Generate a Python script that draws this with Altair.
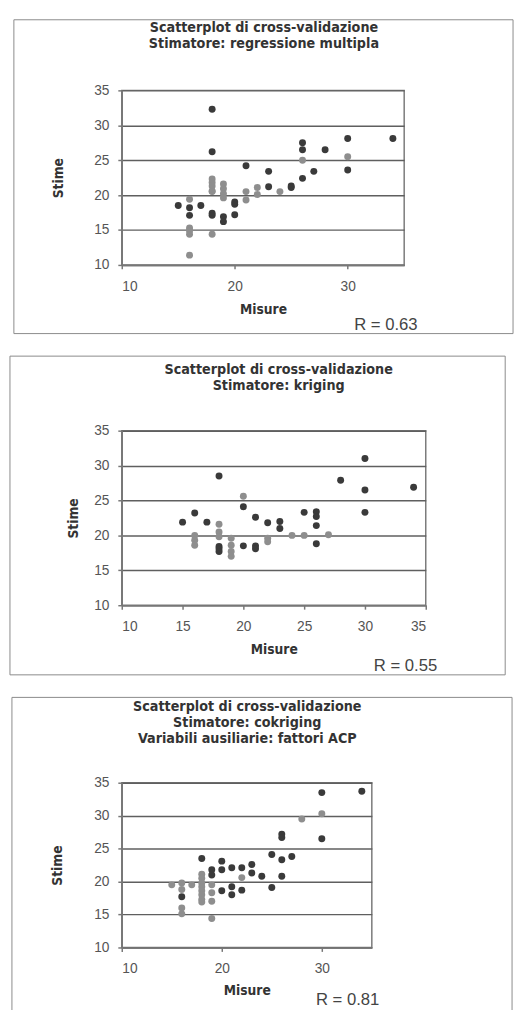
import altair as alt
import pandas as pd

TITLE_FONT = "Liberation Sans Narrow, DejaVu Sans Condensed, Arial Narrow, sans-serif"
LABEL_FONT = "Liberation Sans, Arial, sans-serif"

# ---------------- data ----------------
# Panel 1: regressione multipla
p1_dark_x = [15, 16, 16, 17, 18, 18, 18, 18, 19, 19, 20, 20, 20, 21, 23, 23, 25, 25, 26, 26, 26, 27, 28, 30, 30, 34]
p1_dark_y = [18.5, 18.2, 17.1, 18.5, 32.3, 26.2, 17.4, 17.1, 16.9, 16.2, 19.0, 18.7, 17.2, 24.2, 23.4, 21.2, 21.3, 21.1, 27.5, 26.5, 22.4, 23.4, 26.5, 28.1, 23.6, 28.1]
p1_gray_x = [16, 16, 16, 16, 16, 18, 18, 18, 18, 18, 18, 19, 19, 19, 19, 21, 21, 22, 22, 24, 26, 30]
p1_gray_y = [19.4, 15.3, 14.9, 14.4, 11.4, 22.3, 21.8, 21.3, 20.6, 20.5, 14.4, 21.6, 20.9, 20.2, 19.6, 20.5, 19.3, 21.1, 20.1, 20.5, 25.0, 25.5]

# Panel 2: kriging
p2_dark_x = [15, 16, 17, 18, 18, 18, 18, 20, 20, 21, 21, 21, 22, 23, 23, 25, 26, 26, 26, 26, 28, 30, 30, 30, 34]
p2_dark_y = [21.9, 23.2, 21.9, 28.5, 18.4, 18.1, 17.7, 24.1, 18.5, 22.6, 18.5, 18.1, 21.8, 22.0, 21.0, 23.3, 23.4, 22.7, 21.4, 18.8, 27.9, 31.0, 26.5, 23.3, 26.9]
p2_gray_x = [16, 16, 16, 18, 18, 18, 19, 19, 19, 19, 20, 22, 22, 24, 25, 27]
p2_gray_y = [20.0, 19.3, 18.6, 21.6, 20.5, 19.8, 19.6, 18.6, 17.7, 17.0, 25.6, 19.6, 19.1, 20.0, 20.0, 20.1]

# Panel 3: cokriging
p3_dark_x = [16, 18, 19, 19, 20, 20, 20, 21, 21, 21, 22, 22, 23, 23, 24, 25, 25, 26, 26, 26, 26, 27, 30, 30, 34]
p3_dark_y = [17.7, 23.5, 21.8, 21.0, 23.1, 21.8, 18.6, 22.1, 19.2, 18.0, 22.1, 18.7, 22.6, 21.3, 20.8, 24.1, 19.1, 27.2, 26.7, 23.3, 20.8, 23.8, 33.5, 26.5, 33.7]
p3_gray_x = [15, 16, 16, 16, 16, 17, 18, 18, 18, 18, 18, 18, 18, 18, 19, 19, 19, 19, 22, 28, 30]
p3_gray_y = [19.5, 19.8, 18.8, 16.0, 15.1, 19.5, 21.1, 20.5, 19.8, 19.2, 18.6, 18.0, 17.3, 16.9, 19.5, 18.3, 17.0, 14.4, 20.6, 29.5, 30.3]

titolo_1 = ["Scatterplot di cross-validazione", "Stimatore:  regressione multipla"]
titolo_2 = ["Scatterplot di cross-validazione", "Stimatore: kriging"]
titolo_3 = ["Scatterplot di cross-validazione", "Stimatore: cokriging", "Variabili ausiliarie: fattori ACP"]
r_1, r_2, r_3 = "R = 0.63", "R = 0.55", "R = 0.81"
x_ticks_1 = [10, 20, 30]
x_ticks_2 = [10, 15, 20, 25, 30, 35]
x_ticks_3 = [10, 20, 30]
y_ticks = [10, 15, 20, 25, 30, 35]
x_title = "Misure"
y_title = "Stime"

# ---------------- layout (pixels, relative to each plot area) ----------------
LAY1 = dict(w=288, h=178, frame=(-110, -72, 399, 248), bottom=True,
            title_x=145, title_y=[-64, -47], r=(237, 239), ytx=-64, xty=46)
LAY2 = dict(w=310, h=178, frame=(-114, -76, 391, 249), bottom=True,
            title_x=160, title_y=[-62, -45], r=(257, 240), ytx=-49, xty=45)
LAY3 = dict(w=255, h=168, frame=(-112, -87, 398, 232), bottom=False,
            title_x=128, title_y=[-77, -61, -45], r=(198, 222), ytx=-65, xty=44)

DARK = "#3a3a3a"
GRAY = "#8e8e8e"


def one_row():
    return pd.DataFrame({"k": [0]})


def panel(dx, dy, gx, gy, xt, lines, rtxt, lay):
    W, H = lay["w"], lay["h"]
    df = pd.DataFrame({
        "Misure": gx + dx,
        "Stime": gy + dy,
        "serie": ["chiaro"] * len(gx) + ["scuro"] * len(dx),
    })
    pts = alt.Chart(df).mark_circle(size=50, opacity=1).encode(
        x=alt.X("Misure:Q", title=x_title,
                scale=alt.Scale(domain=[10, 35], nice=False, zero=False),
                axis=alt.Axis(values=xt, grid=False, labelFont=LABEL_FONT, labelFontSize=14,
                              labelColor="#555", tickSize=4, tickColor="#777", tickWidth=1.5,
                              domainColor="#777", domainWidth=1.5, labelPadding=11,
                              titleFont=TITLE_FONT, titleFontSize=14, titleFontWeight="bold",
                              titleColor="#333", titleY=lay["xty"], titleBaseline="middle")),
        y=alt.Y("Stime:Q", title=y_title,
                scale=alt.Scale(domain=[10, 35], nice=False, zero=False),
                axis=alt.Axis(values=y_ticks, grid=True, gridColor="#5f5f5f", gridWidth=1.5,
                              labelFont=LABEL_FONT, labelFontSize=14, labelColor="#555",
                              tickSize=4, tickColor="#777", tickWidth=1.5,
                              domainColor="#777", domainWidth=1.5, labelPadding=9,
                              titleFont=TITLE_FONT, titleFontSize=14, titleFontWeight="bold",
                              titleColor="#333", titleAngle=270, titleX=lay["ytx"], titleY=H / 2,
                              titleAlign="center", titleBaseline="middle")),
        color=alt.Color("serie:N", legend=None,
                        scale=alt.Scale(domain=["chiaro", "scuro"], range=[GRAY, DARK])),
    )
    L, T, R, B = lay["frame"]
    layers = []
    if lay["bottom"]:
        layers.append(alt.Chart(one_row()).mark_rect(filled=False, stroke="#8a8a8a", strokeWidth=1).encode(
            x=alt.value(L), x2=alt.value(R), y=alt.value(T), y2=alt.value(B)))
    else:
        layers.append(alt.Chart(one_row()).mark_rule(stroke="#8a8a8a", strokeWidth=1).encode(
            x=alt.value(L), x2=alt.value(R), y=alt.value(T)))
        layers.append(alt.Chart(one_row()).mark_rule(stroke="#8a8a8a", strokeWidth=1).encode(
            x=alt.value(L), y=alt.value(T), y2=alt.value(B)))
        layers.append(alt.Chart(one_row()).mark_rule(stroke="#8a8a8a", strokeWidth=1).encode(
            x=alt.value(R), y=alt.value(T), y2=alt.value(B)))
    for line, ty in zip(lines, lay["title_y"]):
        layers.append(alt.Chart(one_row()).mark_text(
            font=TITLE_FONT, fontSize=14.5, fontWeight="bold", color="#333",
            align="center", baseline="middle").encode(
            x=alt.value(lay["title_x"]), y=alt.value(ty), text=alt.value(line)))
    layers.append(alt.Chart(one_row()).mark_text(
        font=LABEL_FONT, fontSize=17, color="#444", align="left", baseline="middle").encode(
        x=alt.value(lay["r"][0]), y=alt.value(lay["r"][1]), text=alt.value(rtxt)))
    return alt.layer(pts, *layers).properties(width=W, height=H)


c1 = panel(p1_dark_x, p1_dark_y, p1_gray_x, p1_gray_y, x_ticks_1, titolo_1, r_1, LAY1)
c2 = panel(p2_dark_x, p2_dark_y, p2_gray_x, p2_gray_y, x_ticks_2, titolo_2, r_2, LAY2)
c3 = panel(p3_dark_x, p3_dark_y, p3_gray_x, p3_gray_y, x_ticks_3, titolo_3, r_3, LAY3)

chart = alt.vconcat(c1, c2, c3, spacing=19, bounds="full").properties(
    padding=0, background="white"
).configure_view(stroke="#7a7a7a", strokeWidth=1.5)

chart.save("out.html", embed_options={"renderer": "svg", "actions": False})
